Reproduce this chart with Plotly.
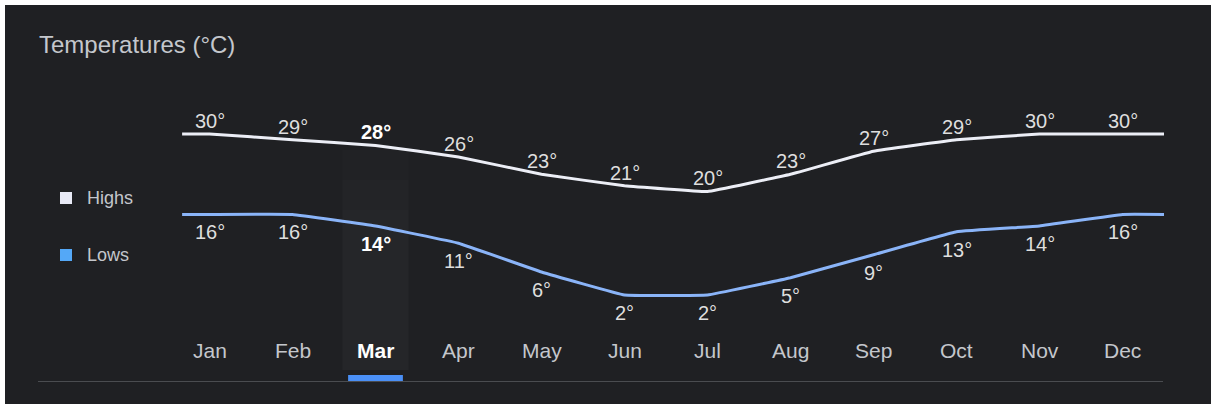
import plotly.graph_objects as go

months = ["Jan", "Feb", "Mar", "Apr", "May", "Jun", "Jul", "Aug", "Sep", "Oct", "Nov", "Dec"]
highs = [30, 29, 28, 26, 23, 21, 20, 23, 27, 29, 30, 30]
lows = [16, 16, 14, 11, 6, 2, 2, 5, 9, 13, 14, 16]
selected = "Mar"
title_text = "Temperatures (°C)"
series_names = ["Highs", "Lows"]

W, H = 1211, 404
ML, MT = 168, 100
PW, PH = 996, 230
MR, MB = W - ML - PW, H - MT - PH

BG = "#1f2023"
HIGH_C = "#eceef6"
LOW_C = "#8ab4f8"
TXT = "#c4c7cc"
VAL = "#dedede"
FONT = "Arial, Liberation Sans, sans-serif"

sel = months.index(selected)
xs = list(range(len(months)))


def px(p):
    """pixel x -> paper"""
    return (p - ML) / PW


def py(p):
    """pixel y -> paper"""
    return (MT + PH - p) / PH


def ext(vals):
    return [vals[0]] + vals + [vals[-1]]


x_ext = [-0.33] + xs + [len(months) - 0.5]

fig = go.Figure()

# highlight band for selected month
for y0, a in [(150, 0.012), (180, 0.012), (210, 0.012)]:
    fig.add_shape(type="rect", xref="x", yref="paper", x0=sel - 0.4, x1=sel + 0.4,
                  y0=py(370), y1=py(y0), fillcolor=f"rgba(255,255,255,{a})",
                  line_width=0, layer="below")

for vals, col in [(highs, HIGH_C), (lows, LOW_C)]:
    fig.add_trace(go.Scatter(
        x=x_ext, y=ext(vals), mode="lines",
        line=dict(color=col, width=3, shape="spline", smoothing=0.2),
        hoverinfo="skip",
    ))

# value labels
for vals, shift in [(highs, 13), (lows, -18)]:
    for i, v in enumerate(vals):
        bold = i == sel
        fig.add_annotation(x=i, y=v, xref="x", yref="y", showarrow=False,
                           text=f"<b>{v}°</b>" if bold else f"{v}°",
                           yanchor="middle", xanchor="center", yshift=shift,
                           font=dict(color="#ffffff" if bold else VAL, size=20, family=FONT))

# month labels
for i, m in enumerate(months):
    bold = i == sel
    fig.add_annotation(x=i, y=py(350), xref="x", yref="paper", showarrow=False,
                       text=f"<b>{m}</b>" if bold else m,
                       yanchor="middle", xanchor="center",
                       font=dict(color="#ffffff" if bold else TXT, size=21, family=FONT))

fig.update_layout(
    width=W, height=H,
    margin=dict(l=ML, r=MR, t=MT, b=MB),
    paper_bgcolor=BG, plot_bgcolor="rgba(0,0,0,0)",
    showlegend=False,
    xaxis=dict(range=[-0.5, len(months) - 0.5], visible=False, fixedrange=True),
    yaxis=dict(range=[-4.09, 35.91], visible=False, fixedrange=True),
    font=dict(family=FONT),
)

# title
fig.add_annotation(xref="paper", yref="paper", x=px(37), y=py(44), text=title_text,
                   showarrow=False, xanchor="left", yanchor="middle",
                   font=dict(color=TXT, size=24, family=FONT))

# custom legend
for name, col, cy in [(series_names[0], "#e8eaf6", 198), (series_names[1], "#54a8f7", 255)]:
    fig.add_shape(type="rect", xref="paper", yref="paper", x0=px(60), x1=px(72),
                  y0=py(cy + 6), y1=py(cy - 6), fillcolor=col, line_width=0)
    fig.add_annotation(xref="paper", yref="paper", x=px(85), y=py(cy), text=name,
                       showarrow=False, xanchor="left", yanchor="middle",
                       font=dict(color=TXT, size=18, family=FONT))

# selected underline
fig.add_shape(type="rect", xref="x", yref="paper", x0=sel - 0.33, x1=sel + 0.33,
              y0=py(381), y1=py(375), fillcolor="#4a8ff5", line_width=0)
# divider
fig.add_shape(type="line", xref="paper", yref="paper", x0=px(38), x1=px(1163),
              y0=py(381.5), y1=py(381.5), line=dict(color="#4a4c50", width=1))

# white page edges (top and left)
fig.add_shape(type="rect", xref="paper", yref="paper", x0=px(0), x1=px(5),
              y0=py(H), y1=py(0), fillcolor="white", line_width=0)
fig.add_shape(type="rect", xref="paper", yref="paper", x0=px(0), x1=px(W),
              y0=py(5), y1=py(0), fillcolor="white", line_width=0)

fig.write_html("out.html", config={"displayModeBar": False},
               post_script="document.body.style.margin='0';document.body.style.overflow='hidden';")
